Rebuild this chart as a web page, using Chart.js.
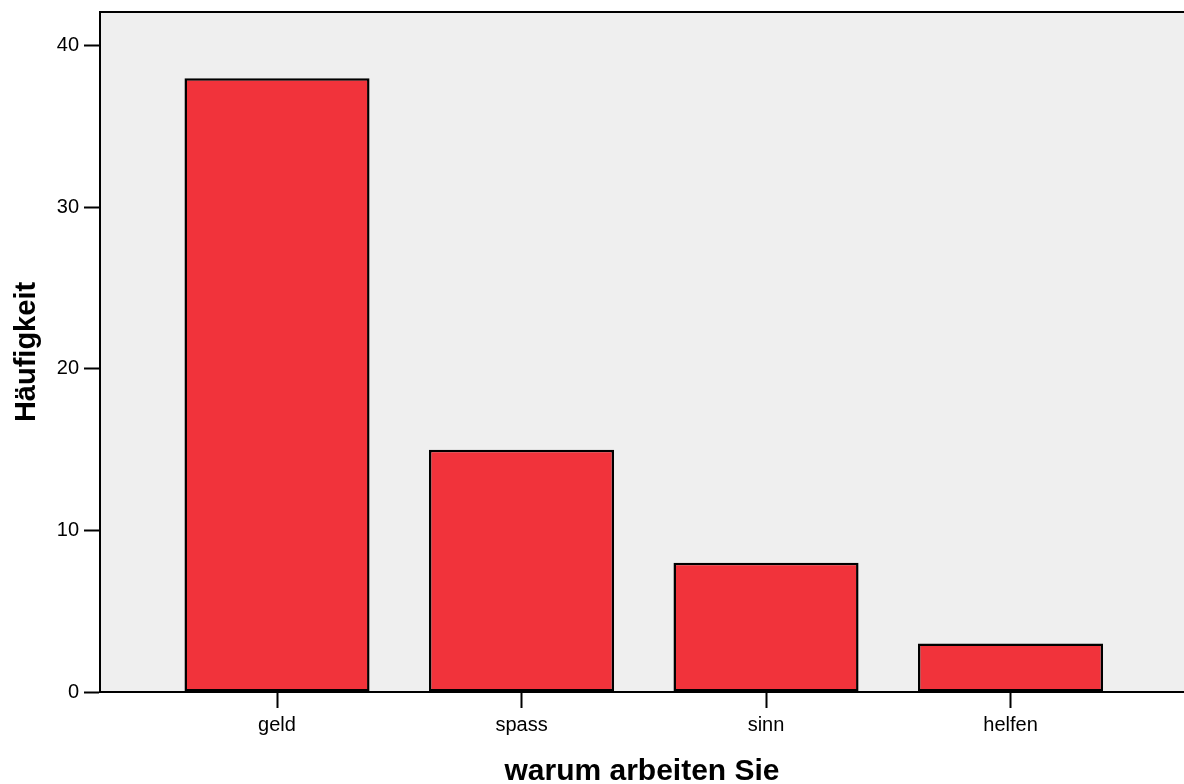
<!DOCTYPE html>
<html>
<head>
<meta charset="utf-8">
<script src="https://cdn.jsdelivr.net/npm/chart.js@4/dist/chart.umd.min.js"></script>
<style>
html,body{margin:0;padding:0;background:#fff;}
#wrap{width:1184px;height:784px;}
</style>
</head>
<body>
<div id="wrap"><canvas id="c" width="1184" height="784"></canvas></div>
<script>
const categories = ['geld', 'spass', 'sinn', 'helfen'];
const counts = [38, 15, 8, 3];
const yTicks = [0, 10, 20, 30, 40];
const xTitle = 'warum arbeiten Sie';
const yTitle = 'Häufigkeit';

const FONT = "Arial, 'Liberation Sans', Helvetica, sans-serif";

const plotFrame = {
  id: 'plotFrame',
  beforeDraw(chart) {
    const {ctx, chartArea: a} = chart;
    ctx.save();
    ctx.fillStyle = '#efefef';
    ctx.fillRect(a.left, a.top, a.right - a.left, a.bottom - a.top);
    ctx.strokeStyle = '#000';
    ctx.lineWidth = 2;
    ctx.beginPath();
    ctx.moveTo(a.left, a.top);
    ctx.lineTo(a.right, a.top);
    ctx.stroke();
    ctx.restore();
  }
};

new Chart(document.getElementById('c'), {
  type: 'bar',
  data: {
    datasets: [{
      data: categories.map((c, i) => ({x: i, y: counts[i]})),
      backgroundColor: '#f1333b',
      borderColor: '#000',
      borderWidth: 2.5,
      borderSkipped: false,
      barPercentage: 0.757,
      categoryPercentage: 1
    }]
  },
  options: {
    responsive: false,
    animation: false,
    layout: {padding: {top: 12, right: 0, left: 0, bottom: 0}},
    plugins: {legend: {display: false}, tooltip: {enabled: false}},
    scales: {
      x: {
        type: 'linear',
        min: -0.724,
        max: 3.7095,
        offset: false,
        afterBuildTicks(scale) { scale.ticks = categories.map((c, i) => ({value: i})); },
        afterFit(scale) { scale.height = 92; scale.paddingLeft = 0; scale.paddingRight = 0; },
        grid: {display: true, drawOnChartArea: false, drawTicks: true, tickLength: 16, tickWidth: 2, tickColor: '#000', offset: false},
        border: {display: true, color: '#000', width: 2},
        ticks: {
          autoSkip: false, maxRotation: 0, padding: 5, color: '#000',
          font: {family: FONT, size: 20},
          callback: (v) => categories[v] !== undefined ? categories[v] : ''
        },
        title: {display: true, text: xTitle, color: '#000', font: {family: FONT, size: 30, weight: 'bold', lineHeight: 0.8}, padding: {top: 0, bottom: 0}}
      },
      y: {
        min: 0,
        max: 42.1,
        afterBuildTicks(scale) { scale.ticks = yTicks.map(v => ({value: v})); },
        afterFit(scale) { scale.width = 100; scale.paddingTop = 0; scale.paddingBottom = 0; },
        grid: {display: true, drawOnChartArea: false, drawTicks: true, tickLength: 16, tickWidth: 2, tickColor: '#000'},
        border: {display: true, color: '#000', width: 2},
        ticks: {padding: 5, color: '#000', font: {family: FONT, size: 20}},
        title: {display: true, text: yTitle, color: '#000', font: {family: FONT, size: 29, weight: 'bold'}, padding: {top: 10, bottom: 0}}
      }
    }
  },
  plugins: [plotFrame]
});
</script>
</body>
</html>
